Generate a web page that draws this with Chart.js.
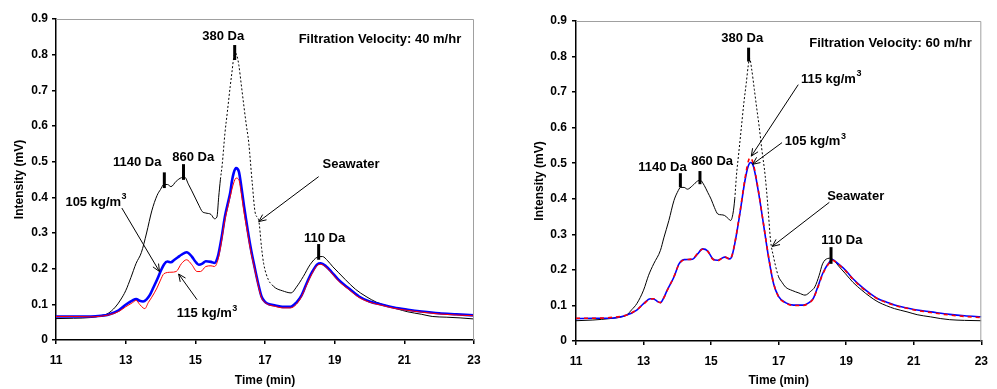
<!DOCTYPE html>
<html><head><meta charset="utf-8">
<script src="https://cdn.jsdelivr.net/npm/chart.js@4"></script>
<style>
body{margin:0;background:#fff;width:997px;height:389px;overflow:hidden;position:relative}
.c{position:absolute;top:0;height:389px}
#w1{left:0;width:500px}
#w2{left:520px;width:477px}
</style></head><body>
<div class="c" id="w1"><canvas id="c1"></canvas></div>
<div class="c" id="w2"><canvas id="c2"></canvas></div>
<script>
// ---- tick labels ----
const timeTicks = [11, 13, 15, 17, 19, 21, 23];
const intensityTicks = [0, 0.1, 0.2, 0.3, 0.4, 0.5, 0.6, 0.7, 0.8, 0.9];
const seriesNames = ['Seawater', '105 kg/m³', '115 kg/m³'];

// ---- 40 m/hr panel ----
const sw40Time = [11.0,11.5,12.0,12.3,12.5,12.7,12.85,13.0,13.15,13.3,13.45,13.6,13.75,13.9,14.0,14.1,14.2,14.3,14.45,14.6,14.7,14.8,14.9,15.0,15.1,15.2,15.3,15.45,15.55,15.62,15.67,15.72,15.77,15.85,15.92,16.0,16.05,16.1,16.15,16.2,16.25,16.32,16.39,16.46,16.53,16.63,16.72,16.82,16.9,16.96,17.1,17.2,17.3,17.5,17.75,17.9,18.1,18.3,18.5,18.65,18.8,18.95,19.1,19.3,19.6,19.9,20.2,20.5,20.8,21.1,21.5,21.8,22.2,22.6,23.0];
const sw40Value = [0.060,0.061,0.063,0.068,0.075,0.092,0.112,0.138,0.175,0.215,0.245,0.300,0.362,0.405,0.422,0.436,0.436,0.430,0.445,0.455,0.456,0.437,0.418,0.398,0.378,0.360,0.356,0.352,0.340,0.345,0.400,0.450,0.490,0.580,0.640,0.710,0.750,0.790,0.805,0.795,0.770,0.715,0.659,0.605,0.556,0.444,0.356,0.335,0.260,0.215,0.168,0.155,0.146,0.138,0.132,0.148,0.178,0.212,0.232,0.234,0.222,0.205,0.190,0.170,0.142,0.122,0.106,0.096,0.087,0.079,0.072,0.066,0.064,0.062,0.059];

const d105v40Time = [11.0,11.5,12.0,12.3,12.5,12.8,13.0,13.2,13.3,13.4,13.5,13.6,13.7,13.8,13.9,14.0,14.1,14.2,14.3,14.4,14.5,14.6,14.75,14.9,15.0,15.1,15.2,15.3,15.45,15.55,15.65,15.75,15.85,15.95,16.0,16.05,16.1,16.17,16.25,16.32,16.4,16.5,16.6,16.7,16.8,16.9,17.0,17.1,17.3,17.5,17.73,17.9,18.05,18.2,18.35,18.5,18.6,18.75,18.9,19.1,19.4,19.7,20.0,20.36,20.7,21.1,21.5,22.0,22.5,23.0];
const d105v40Value = [0.066,0.066,0.066,0.068,0.071,0.083,0.099,0.111,0.115,0.110,0.108,0.114,0.127,0.148,0.169,0.192,0.212,0.220,0.218,0.225,0.232,0.239,0.246,0.234,0.220,0.211,0.214,0.221,0.219,0.216,0.235,0.285,0.346,0.390,0.412,0.445,0.468,0.482,0.472,0.430,0.374,0.310,0.253,0.205,0.160,0.122,0.107,0.101,0.097,0.093,0.093,0.105,0.125,0.160,0.190,0.212,0.215,0.207,0.192,0.170,0.145,0.122,0.108,0.099,0.091,0.085,0.080,0.075,0.072,0.069];

const d115v40Time = [11.0,11.5,12.0,12.5,12.8,13.0,13.2,13.3,13.4,13.5,13.55,13.65,13.75,13.9,14.0,14.1,14.3,14.45,14.6,14.75,14.9,15.05,15.15,15.3,15.45,15.55,15.65,15.75,15.85,15.95,16.0,16.1,16.17,16.25,16.32,16.4,16.5,16.6,16.7,16.8,16.9,17.0,17.1,17.3,17.5,17.73,17.9,18.05,18.2,18.35,18.5,18.6,18.75,18.9,19.1,19.4,19.7,20.0,20.36,20.7,21.1,21.5,22.0,22.5,23.0];
const d115v40Value = [0.066,0.066,0.065,0.070,0.080,0.093,0.105,0.111,0.100,0.090,0.088,0.105,0.120,0.146,0.168,0.186,0.190,0.192,0.214,0.225,0.211,0.192,0.192,0.206,0.208,0.206,0.225,0.275,0.337,0.380,0.402,0.440,0.454,0.449,0.410,0.356,0.300,0.244,0.200,0.155,0.118,0.105,0.099,0.094,0.090,0.090,0.100,0.122,0.155,0.186,0.209,0.212,0.204,0.189,0.166,0.142,0.119,0.106,0.097,0.089,0.083,0.078,0.073,0.070,0.068];

// ---- 60 m/hr panel ----
const sw60Time = [11.0,11.5,12.0,12.3,12.5,12.65,12.8,13.0,13.15,13.3,13.5,13.6,13.75,13.9,14.0,14.1,14.2,14.3,14.45,14.6,14.68,14.8,14.9,15.0,15.1,15.2,15.3,15.4,15.5,15.58,15.65,15.7,15.75,15.82,15.9,15.97,16.04,16.1,16.14,16.2,16.28,16.35,16.42,16.5,16.6,16.68,16.76,16.85,16.95,17.0,17.1,17.2,17.4,17.6,17.78,17.95,18.07,18.2,18.3,18.45,18.55,18.64,18.8,18.98,19.2,19.46,19.7,19.94,20.2,20.43,20.8,21.1,21.49,21.8,22.06,22.5,23.0];
const sw60Value = [0.057,0.059,0.063,0.067,0.073,0.088,0.105,0.143,0.185,0.217,0.255,0.290,0.339,0.395,0.418,0.432,0.432,0.427,0.437,0.450,0.452,0.437,0.418,0.399,0.375,0.357,0.355,0.353,0.345,0.339,0.360,0.400,0.465,0.530,0.605,0.670,0.725,0.775,0.795,0.765,0.707,0.655,0.605,0.540,0.465,0.380,0.283,0.236,0.195,0.180,0.165,0.152,0.142,0.135,0.129,0.140,0.152,0.185,0.217,0.232,0.233,0.226,0.208,0.189,0.165,0.143,0.125,0.110,0.099,0.091,0.082,0.074,0.068,0.063,0.060,0.058,0.057];

const d105v60Time = [11.0,11.5,12.0,12.5,12.8,13.0,13.2,13.3,13.4,13.5,13.6,13.7,13.9,14.05,14.2,14.45,14.6,14.75,14.9,15.05,15.2,15.4,15.55,15.62,15.7,15.85,16.0,16.1,16.17,16.25,16.4,16.55,16.7,16.85,17.0,17.2,17.44,17.73,17.9,18.02,18.15,18.3,18.45,18.59,18.75,18.98,19.2,19.46,19.7,19.94,20.2,20.43,20.8,21.1,21.5,22.06,22.5,23.0];
const d105v60Value = [0.063,0.064,0.064,0.073,0.087,0.105,0.119,0.118,0.112,0.108,0.122,0.143,0.180,0.217,0.229,0.230,0.245,0.259,0.253,0.231,0.227,0.236,0.231,0.240,0.273,0.357,0.450,0.492,0.502,0.492,0.420,0.329,0.236,0.161,0.125,0.108,0.101,0.101,0.108,0.119,0.150,0.189,0.215,0.229,0.218,0.199,0.175,0.152,0.134,0.119,0.109,0.101,0.093,0.087,0.082,0.075,0.071,0.068];

const d115v60Time = [11.0,11.5,12.0,12.5,12.8,13.0,13.2,13.3,13.4,13.5,13.6,13.7,13.9,14.05,14.2,14.45,14.6,14.75,14.9,15.05,15.2,15.4,15.55,15.62,15.7,15.85,16.0,16.1,16.16,16.25,16.4,16.55,16.7,16.85,17.0,17.2,17.44,17.73,17.9,18.02,18.15,18.3,18.45,18.59,18.75,18.98,19.2,19.46,19.7,19.94,20.2,20.43,20.8,21.1,21.5,22.06,22.5,23.0];
const d115v60Value = [0.064,0.064,0.066,0.073,0.088,0.104,0.118,0.119,0.112,0.108,0.121,0.142,0.181,0.216,0.228,0.231,0.246,0.258,0.252,0.230,0.226,0.237,0.230,0.241,0.275,0.360,0.455,0.505,0.516,0.498,0.423,0.330,0.238,0.162,0.124,0.107,0.100,0.100,0.107,0.118,0.148,0.187,0.213,0.227,0.217,0.197,0.174,0.150,0.132,0.118,0.108,0.100,0.092,0.086,0.080,0.073,0.069,0.066];

const FAM = '"Liberation Sans", Arial, Helvetica, sans-serif';

function pts(t, v) { return t.map((x, i) => ({x: x, y: v[i]})); }

const notesPlugin = {
  id: 'notes',
  afterDatasetsDraw(chart, args, opts) {
    const {ctx, chartArea: a} = chart;
    const x = chart.scales.x, y = chart.scales.y;
    ctx.save();
    ctx.strokeStyle = '#a0a0a0'; ctx.lineWidth = 1;
    ctx.beginPath();
    ctx.moveTo(a.left, a.top + 0.5); ctx.lineTo(a.right - 0.5, a.top + 0.5); ctx.lineTo(a.right - 0.5, a.bottom);
    ctx.stroke();
    ctx.strokeStyle = '#000'; ctx.lineWidth = 3;
    for (const m of opts.markers) {
      const px = x.getPixelForValue(m.t);
      ctx.beginPath(); ctx.moveTo(px, y.getPixelForValue(m.v1)); ctx.lineTo(px, y.getPixelForValue(m.v2)); ctx.stroke();
    }
    ctx.lineWidth = 1;
    for (const ar of opts.arrows) {
      const x0 = x.getPixelForValue(ar.t0), y0 = y.getPixelForValue(ar.v0);
      const x1 = x.getPixelForValue(ar.t1), y1 = y.getPixelForValue(ar.v1);
      const ang = Math.atan2(y1 - y0, x1 - x0);
      ctx.beginPath(); ctx.moveTo(x0, y0); ctx.lineTo(x1, y1); ctx.stroke();
      const L = 8, s = 0.42;
      ctx.beginPath();
      ctx.moveTo(x1 - L * Math.cos(ang - s), y1 - L * Math.sin(ang - s));
      ctx.lineTo(x1, y1);
      ctx.lineTo(x1 - L * Math.cos(ang + s), y1 - L * Math.sin(ang + s));
      ctx.stroke();
    }
    ctx.fillStyle = '#000'; ctx.textBaseline = 'middle'; ctx.textAlign = 'left';
    for (const l of opts.labels) {
      ctx.font = 'bold 13px ' + FAM;
      const w = ctx.measureText(l.text).width;
      ctx.font = 'bold 9px ' + FAM;
      const ws = l.sup ? ctx.measureText(l.sup).width : 0;
      let px = x.getPixelForValue(l.t);
      const py = y.getPixelForValue(l.v);
      if (l.align === 'center') px -= (w + ws) / 2;
      ctx.font = 'bold 13px ' + FAM;
      ctx.fillText(l.text, px, py);
      if (l.sup) { ctx.font = 'bold 9px ' + FAM; ctx.fillText(l.sup, px + w + 0.5, py - 5); }
    }
    ctx.restore();
  }
};

function makeChart(id, sw, b, r, o) {
  const dashFrom = o.dashFrom, dashTo = o.dashTo;
  return new Chart(document.getElementById(id), {
    type: 'line',
    data: {
      datasets: [
        {label: seriesNames[0], order: 2, data: sw, borderColor: '#000', borderWidth: 1, pointRadius: 0,
         cubicInterpolationMode: 'monotone',
         segment: {borderDash: c => (c.p0.parsed.x >= dashFrom && c.p1.parsed.x <= dashTo) ? [2, 2] : undefined}},
        {label: seriesNames[1], order: 1, data: b, borderColor: '#0000ff', borderWidth: o.blueW, pointRadius: 0, cubicInterpolationMode: 'monotone'},
        {label: seriesNames[2], order: 0, data: r, borderColor: '#ff0000', borderWidth: o.redW, borderDash: o.redDash, pointRadius: 0, cubicInterpolationMode: 'monotone'}
      ]
    },
    options: {
      responsive: true, maintainAspectRatio: false, animation: false,
      layout: {padding: {top: o.padTop, right: o.padRight, left: 0, bottom: 0}},
      plugins: {legend: {display: false}, tooltip: {enabled: false}, notes: o.notes},
      scales: {
        x: {
          type: 'linear', min: 11, max: 23,
          afterBuildTicks: s => { s.ticks = timeTicks.map(v => ({value: v})); },
          afterFit: s => { s.height = o.xH; },
          grid: {drawOnChartArea: false, tickLength: 4, color: '#000', lineWidth: 1.5},
          border: {color: '#000', width: 1.5},
          ticks: {color: '#000', padding: 9, maxRotation: 0, font: {family: FAM, size: 12, weight: 'bold'}},
          title: {display: true, text: 'Time (min)', color: '#000', padding: {top: 0, bottom: 1}, font: {family: FAM, size: 12, weight: 'bold'}}
        },
        y: {
          min: 0, max: 0.9,
          afterBuildTicks: s => { s.ticks = intensityTicks.map(v => ({value: v})); },
          afterFit: s => { s.width = 56; },
          grid: {drawOnChartArea: false, tickLength: 4, color: '#000', lineWidth: 1.5},
          border: {color: '#000', width: 1.5},
          ticks: {color: '#000', padding: o.yPad, font: {family: FAM, size: 12, weight: 'bold'},
                  callback: v => String(Math.round(v * 10) / 10)},
          title: {display: true, text: 'Intensity (mV)', color: '#000', padding: {top: 12, bottom: 0}, font: {family: FAM, size: 12, weight: 'bold'}}
        }
      }
    },
    plugins: [notesPlugin]
  });
}

makeChart('c1', pts(sw40Time, sw40Value), pts(d105v40Time, d105v40Value), pts(d115v40Time, d115v40Value), {
  dashFrom: 15.72, dashTo: 17.2, blueW: 2.6, redW: 1, redDash: [],
  padTop: 19, padRight: 26, xH: 49, yPad: 4,
  notes: {
    labels: [
      {text: '380 Da', t: 15.80, v: 0.851, align: 'center'},
      {text: 'Filtration Velocity: 40 m/hr', t: 20.30, v: 0.844, align: 'center'},
      {text: '1140 Da', t: 13.33, v: 0.498, align: 'center'},
      {text: '860 Da', t: 14.94, v: 0.513, align: 'center'},
      {text: 'Seawater', t: 19.47, v: 0.492, align: 'center'},
      {text: '105 kg/m', sup: '3', t: 11.27, v: 0.387, align: 'left'},
      {text: '115 kg/m', sup: '3', t: 14.47, v: 0.074, align: 'left'},
      {text: '110 Da', t: 18.71, v: 0.286, align: 'center'}
    ],
    markers: [
      {t: 16.13, v1: 0.827, v2: 0.785},
      {t: 14.11, v1: 0.470, v2: 0.426},
      {t: 14.66, v1: 0.493, v2: 0.449},
      {t: 18.54, v1: 0.269, v2: 0.225}
    ],
    arrows: [
      {t0: 18.54, v0: 0.458, t1: 16.82, v1: 0.332},
      {t0: 12.89, v0: 0.370, t1: 13.97, v1: 0.192},
      {t0: 15.05, v0: 0.113, t1: 14.52, v1: 0.185}
    ]
  }
});

makeChart('c2', pts(sw60Time, sw60Value), pts(d105v60Time, d105v60Value), pts(d115v60Time, d115v60Value), {
  dashFrom: 15.68, dashTo: 17.05, blueW: 1.6, redW: 1.6, redDash: [4, 4],
  padTop: 21, padRight: 7, xH: 48, yPad: 5,
  notes: {
    labels: [
      {text: '380 Da', t: 15.92, v: 0.850, align: 'center'},
      {text: 'Filtration Velocity: 60 m/hr', t: 20.31, v: 0.838, align: 'center'},
      {text: '115 kg/m', sup: '3', t: 17.66, v: 0.737, align: 'left'},
      {text: '105 kg/m', sup: '3', t: 17.18, v: 0.562, align: 'left'},
      {text: '1140 Da', t: 13.56, v: 0.488, align: 'center'},
      {text: '860 Da', t: 15.03, v: 0.506, align: 'center'},
      {text: 'Seawater', t: 19.28, v: 0.408, align: 'center'},
      {text: '110 Da', t: 18.87, v: 0.283, align: 'center'}
    ],
    markers: [
      {t: 16.11, v1: 0.825, v2: 0.786},
      {t: 14.09, v1: 0.472, v2: 0.432},
      {t: 14.67, v1: 0.478, v2: 0.441},
      {t: 18.55, v1: 0.264, v2: 0.217}
    ],
    arrows: [
      {t0: 17.58, v0: 0.721, t1: 16.19, v1: 0.520},
      {t0: 17.10, v0: 0.558, t1: 16.23, v1: 0.497},
      {t0: 18.50, v0: 0.390, t1: 16.81, v1: 0.266}
    ]
  }
});
</script>
</body></html>
